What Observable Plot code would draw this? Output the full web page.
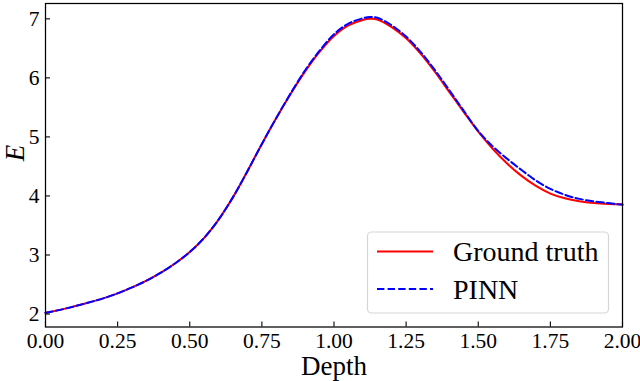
<!DOCTYPE html>
<html>
<head>
<meta charset="utf-8">
<script src="https://cdn.jsdelivr.net/npm/d3@7"></script>
<script src="https://cdn.jsdelivr.net/npm/@observablehq/plot@0.6"></script>
<style>
  html, body { margin: 0; padding: 0; background: #fff; }
</style>
</head>
<body>
<div id="chart"></div>
<script>
const depth = [0.00,0.05,0.10,0.15,0.20,0.25,0.30,0.35,0.40,0.45,0.50,0.55,0.60,0.65,0.70,0.75,0.80,0.85,0.90,0.95,1.00,1.05,1.10,1.125,1.15,1.20,1.25,1.30,1.35,1.40,1.45,1.50,1.55,1.60,1.65,1.70,1.75,1.80,1.85,1.90,1.95,2.00];
const groundTruth = [2.02,2.07,2.13,2.195,2.265,2.35,2.45,2.565,2.70,2.86,3.05,3.29,3.60,3.98,4.42,4.88,5.32,5.73,6.11,6.44,6.71,6.89,6.98,7.00,6.99,6.86,6.67,6.41,6.10,5.76,5.42,5.09,4.80,4.55,4.34,4.17,4.04,3.96,3.91,3.88,3.865,3.86];
const pinn = [2.02,2.07,2.13,2.195,2.265,2.35,2.45,2.565,2.70,2.86,3.05,3.29,3.60,3.98,4.42,4.88,5.32,5.74,6.13,6.46,6.74,6.92,7.01,7.03,7.02,6.89,6.70,6.44,6.13,5.79,5.44,5.10,4.84,4.63,4.44,4.26,4.12,4.02,3.95,3.91,3.88,3.85];
const seriesNames = ["Ground truth", "PINN"];
const seriesColors = ["#ff0000", "#0000ff"];
const xTicks = [0, 0.25, 0.5, 0.75, 1.0, 1.25, 1.5, 1.75, 2.0];
const yTicks = [2, 3, 4, 5, 6, 7];
const xLabel = "Depth";
const yLabel = "E";

const gtData = depth.map((d, i) => ({x: d, y: groundTruth[i]}));
const pinnData = depth.map((d, i) => ({x: d, y: pinn[i]}));

const font = "'Liberation Serif', 'DejaVu Serif', serif";

const plot = Plot.plot({
  width: 640,
  height: 381,
  marginLeft: 45,
  marginRight: 18,
  marginTop: 3,
  marginBottom: 54.5,
  style: {fontFamily: font, fontSize: "21.5px", background: "#fff", color: "#000"},
  x: {domain: [0, 2]},
  y: {domain: [1.78, 7.26]},
  marks: [
    Plot.line(gtData, {x: "x", y: "y", stroke: seriesColors[0], strokeWidth: 2, curve: "catmull-rom"}),
    Plot.line(pinnData, {x: "x", y: "y", stroke: seriesColors[1], strokeWidth: 2, strokeDasharray: "7.4,3.2", curve: "catmull-rom"}),
    Plot.frame({stroke: "#000", strokeWidth: 1.25}),
    Plot.axisX({ticks: xTicks, tickFormat: d => d.toFixed(2), tickSize: -5, tickPadding: 11, label: null, stroke: "#000", strokeWidth: 1.1, fill: "#000"}),
    Plot.axisY({ticks: yTicks, tickFormat: d => String(d), tickSize: -5, tickPadding: 11, label: null, stroke: "#000", strokeWidth: 1.1, fill: "#000"}),
    Plot.text([xLabel], {text: d => d, frameAnchor: "bottom", lineAnchor: "bottom", dy: 48, fontSize: 27, fill: "#000"}),
    Plot.text([yLabel], {text: d => d, frameAnchor: "left", lineAnchor: "middle", rotate: -90, dx: -30.5, dy: -4, fontSize: 27, fontStyle: "italic", fill: "#000"})
  ]
});

// Legend (matplotlib-style box, lower right inside axes)
const svg = d3.select(plot);
const lg = svg.append("g").attr("font-family", font).attr("text-anchor", "start");
lg.append("rect")
  .attr("x", 367.5).attr("y", 232).attr("width", 241).attr("height", 81)
  .attr("rx", 4).attr("ry", 4)
  .attr("fill", "#fff").attr("fill-opacity", 0.8)
  .attr("stroke", "#d6d6d6").attr("stroke-width", 1.2);
const rows = [{y: 251.5, dash: null}, {y: 289, dash: "7.4,3.2"}];
rows.forEach((r, i) => {
  const ln = lg.append("line")
    .attr("x1", 377).attr("x2", 433).attr("y1", r.y).attr("y2", r.y)
    .attr("stroke", seriesColors[i]).attr("stroke-width", 2);
  if (r.dash) ln.attr("stroke-dasharray", r.dash);
  lg.append("text")
    .attr("x", 453).attr("y", r.y + 9.5)
    .attr("text-anchor", "start")
    .attr("font-size", 28).attr("fill", "#000")
    .text(seriesNames[i]);
});

document.getElementById("chart").appendChild(plot);
</script>
</body>
</html>
